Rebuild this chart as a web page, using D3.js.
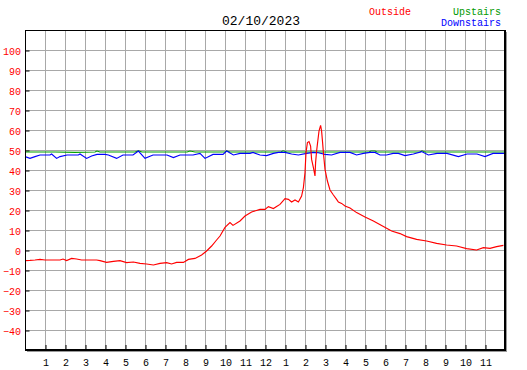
<!DOCTYPE html>
<html>
<head>
<meta charset="utf-8">
<script src="https://cdnjs.cloudflare.com/ajax/libs/d3/7.8.5/d3.min.js"></script>
<style>
  body { margin: 0; background: #fff; }
  text { font-family: "Liberation Mono", "DejaVu Sans Mono", monospace; }
</style>
</head>
<body>
<script>
// readings as [hour of day, degrees]
var outside = [
    [0,-5.3],[0.25,-5.2],[0.5,-5],[0.75,-4.7],[1,-5],[1.25,-5],[1.5,-5],[1.75,-5],
    [1.9,-4.5],[2.08,-5.3],[2.33,-4.2],[2.58,-4.5],[2.83,-5],[3.08,-5],[3.33,-5],[3.58,-5],
    [3.75,-5.3],[4.08,-6.2],[4.42,-5.7],[4.75,-5.3],[5.08,-6.3],[5.42,-6],[5.75,-6.7],[6.08,-7],
    [6.42,-7.5],[6.75,-6.7],[7.08,-6.3],[7.33,-7],[7.58,-6.2],[7.92,-6.2],[8.17,-4.7],[8.5,-4.2],
    [8.83,-2.5],[9.08,-0.5],[9.33,2],[9.58,5],[9.75,7],[10,11.3],[10.25,13.7],[10.4,12.3],
    [10.75,14.5],[11,17],[11.33,19],[11.75,20.3],[12,20.3],[12.17,21.7],[12.42,20.7],[12.58,21.7],
    [12.75,22.8],[13,25.7],[13.17,25.3],[13.33,24],[13.5,25],[13.67,24],[13.83,27],[13.92,31.2],
    [14,38.7],[14.05,48.7],[14.12,53.7],[14.2,54.2],[14.28,52],[14.33,45.3],[14.42,41.2],[14.5,37],
    [14.53,43.7],[14.58,49.5],[14.63,53.7],[14.7,59.5],[14.78,62.3],[14.83,59.5],[14.88,53.7],[14.92,48.7],
    [15,40.3],[15.12,34.5],[15.25,30],[15.42,27.5],[15.58,25.3],[15.67,24],[15.83,23.3],[16,22],
    [16.25,21],[16.58,18.7],[17,16.5],[17.42,14.5],[17.92,11.7],[18.33,9.5],[18.75,8.2],[19.08,6.7],
    [19.58,5.3],[20.08,4.5],[20.58,3.3],[21.08,2.5],[21.58,2],[22.08,0.7],[22.58,0],[22.92,1.2],
    [23.25,0.8],[23.58,1.7],[23.92,2.3]
];

var upstairs = [
    [0,49],[1.5,49],[2.5,48.8],[3.5,49],[3.6,49.5],[3.75,49],[5.5,49],[5.67,49.6],[5.85,49],
    [8.1,49],[8.25,49.5],[8.5,49],[10,49],[10.08,49.6],[10.25,49],[12.8,49],[12.9,49.6],[13.1,49],
    [17.2,49],[17.3,49.5],[17.5,49.5],[17.6,49],[19.75,49],[19.85,49.6],[20,49],[23.95,49]
];

var downstairs = [
    [0,46.7],[0.25,45.8],[0.5,46.7],[0.75,47.5],[1.25,47.5],[1.33,48],[1.58,45.8],[1.75,46.7],
    [2.1,47.5],[2.67,47.5],[2.75,48],[3.08,45.8],[3.33,47],[3.6,47.8],[4,47.8],[4.17,47.5],
    [4.58,45.8],[4.9,47.5],[5.4,47.5],[5.67,49.5],[6,45.8],[6.4,47.5],[7.1,47.5],[7.42,46.2],
    [7.75,47.5],[8.4,47.5],[8.75,48.3],[9,45.8],[9.4,47.8],[9.9,47.8],[10.08,49.5],[10.42,47.5],
    [10.75,48.3],[11.25,48.3],[11.4,48.8],[11.75,47.5],[12.08,47.2],[12.42,48.3],[12.67,48.8],[13,48.8],
    [13.33,48],[13.67,47.5],[14.08,48.3],[14.42,48.8],[14.67,48.6],[15,47.8],[15.33,47.5],[15.75,48.8],
    [16.25,48.8],[16.58,47.5],[16.92,48.3],[17.25,48.8],[17.5,48.8],[17.75,47.5],[18.08,47.5],[18.4,48.3],
    [18.67,48.3],[19,47.2],[19.42,48],[19.83,49.2],[20.17,47.5],[20.6,48.3],[21.1,48.3],[21.67,46.7],
    [22.1,48],[22.6,48],[23,46.7],[23.4,48.3],[23.95,48.3]
];

var hourTicks = d3.range(1, 24);
var hourLabels = ["1","2","3","4","5","6","7","8","9","10","11","12",
                  "1","2","3","4","5","6","7","8","9","10","11"];
var tempTicks = [-40,-30,-20,-10,0,10,20,30,40,50,60,70,80,90,100];

var title = "02/10/2023";
var legend = [
    {name:"Outside", color:"#ff0000", x:369, y:15},
    {name:"Upstairs", color:"#009900", x:453, y:15},
    {name:"Downstairs", color:"#0000ff", x:441, y:26}
];

var W = 527, H = 370;
var plotL = 25, plotR = 505, plotT = 30, plotB = 350;

var svg = d3.select("body").append("svg")
            .attr("width", W)
            .attr("height", H);

var x = d3.scaleLinear().domain([0, 24]).range([plotL, plotR]);
var y = d3.scaleLinear().domain([-50, 110]).range([plotB, plotT]);

// shadow + plot background
svg.append("rect")
   .attr("x", plotL + 2).attr("y", plotT + 2)
   .attr("width", plotR - plotL).attr("height", plotB - plotT)
   .attr("fill", "#999999");
svg.append("rect")
   .attr("x", plotL).attr("y", plotT)
   .attr("width", plotR - plotL).attr("height", plotB - plotT)
   .attr("fill", "#ffffff");

// grid
var grid = svg.append("g").attr("transform", "translate(0.5,0.5)");
grid.selectAll("line.v")
    .data(hourTicks)
    .enter().append("line")
    .attr("x1", function(d){ return x(d); })
    .attr("x2", function(d){ return x(d); })
    .attr("y1", plotT).attr("y2", plotB)
    .attr("stroke", "#a8a8a8");
grid.selectAll("line.h")
    .data(tempTicks)
    .enter().append("line")
    .attr("x1", plotL).attr("x2", plotR)
    .attr("y1", function(d){ return y(d); })
    .attr("y2", function(d){ return y(d); })
    .attr("stroke", "#a8a8a8");

// axes: short inward ticks
var yAxis = d3.axisLeft(y).tickValues(tempTicks).tickSize(-4).tickPadding(5);
var gy = svg.append("g")
   .attr("transform", "translate(" + (plotL + 0.5) + ",0.5)")
   .call(yAxis);
gy.select(".domain").remove();
gy.selectAll("line").attr("stroke", "#000");
gy.selectAll("text")
  .attr("fill", "#ff0000")
  .attr("x", -4.5)
  .attr("dy", "0.4em")
  .style("font-size", "10px")
  .style("font-family", "Liberation Mono");

var xAxis = d3.axisBottom(x).tickValues(hourTicks).tickSize(-4)
              .tickFormat(function(d, i){ return hourLabels[i]; });
var gx = svg.append("g")
   .attr("transform", "translate(0.5," + (plotB - 1) + ")")
   .call(xAxis);
gx.select(".domain").remove();
gx.selectAll("line").attr("stroke", "#000");
gx.selectAll("text")
  .attr("fill", "#000")
  .attr("y", 16.5)
  .attr("dy", 0)
  .style("font-size", "10px")
  .style("font-family", "Liberation Mono");

// series
var line = d3.line()
             .x(function(d){ return x(d[0]); })
             .y(function(d){ return y(d[1]); });

[[upstairs, "#00a000"], [downstairs, "#0000ff"], [outside, "#ff0000"]].forEach(function(s){
    svg.append("path")
       .datum(s[0])
       .attr("d", line)
       .attr("fill", "none")
       .attr("stroke", s[1])
       .attr("stroke-width", 1.15);
});

// frame
svg.append("line").attr("x1", plotL + 0.5).attr("x2", plotL + 0.5)
   .attr("y1", plotT).attr("y2", plotB + 1).attr("stroke", "#000");
svg.append("line").attr("x1", plotL).attr("x2", plotR + 1)
   .attr("y1", plotT + 0.5).attr("y2", plotT + 0.5).attr("stroke", "#000");
svg.append("line").attr("x1", plotR).attr("x2", plotR)
   .attr("y1", plotT).attr("y2", plotB + 1).attr("stroke", "#000").attr("stroke-width", 2);
svg.append("line").attr("x1", plotL).attr("x2", plotR + 1)
   .attr("y1", plotB).attr("y2", plotB).attr("stroke", "#000").attr("stroke-width", 2);

// title and legend
svg.append("text")
   .attr("x", 261).attr("y", 25)
   .attr("text-anchor", "middle")
   .style("font-size", "13px")
   .text(title);

svg.selectAll("text.legend")
   .data(legend)
   .enter().append("text")
   .attr("class", "legend")
   .attr("x", function(d){ return d.x; })
   .attr("y", function(d){ return d.y; })
   .attr("fill", function(d){ return d.color; })
   .style("font-size", "10px")
   .text(function(d){ return d.name; });
</script>
</body>
</html>
